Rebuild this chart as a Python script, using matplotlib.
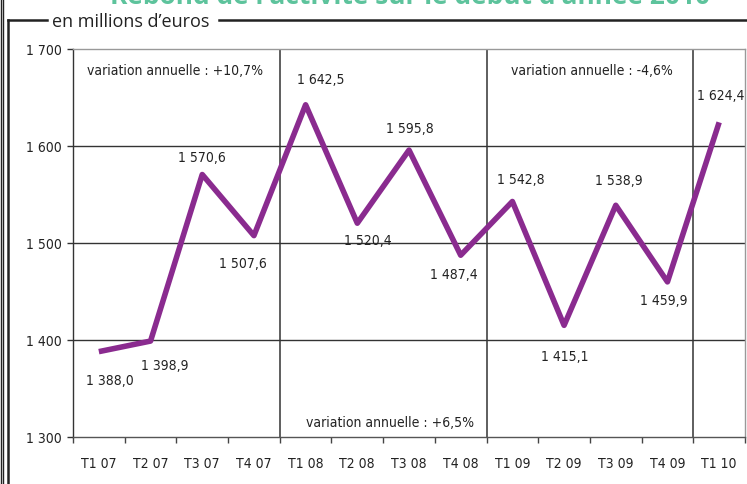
import matplotlib
matplotlib.use("Agg")
import matplotlib.pyplot as plt
from matplotlib.lines import Line2D

# ---- data ----
categories = ['T1 07', 'T2 07', 'T3 07', 'T4 07', 'T1 08', 'T2 08', 'T3 08',
              'T4 08', 'T1 09', 'T2 09', 'T3 09', 'T4 09', 'T1 10']
values = [1388.0, 1398.9, 1570.6, 1507.6, 1642.5, 1520.4, 1595.8,
          1487.4, 1542.8, 1415.1, 1538.9, 1459.9, 1624.4]
y_ticks = [1300, 1400, 1500, 1600, 1700]
y_tick_labels = ['1 300', '1 400', '1 500', '1 600', '1 700']
annual_notes = ['variation annuelle : +10,7%', 'variation annuelle : +6,5%',
                'variation annuelle : -4,6%']
title = "Rebond de l'activité sur le début d'année 2010"
subtitle = "en millions d\u2019euros"


def fr(v):
    return f"{v:,.1f}".replace(',', ' ').replace('.', ',')


W, H = 747, 485
fig = plt.figure(figsize=(W / 100, H / 100), dpi=100)
FONT = dict(family='DejaVu Sans', stretch='condensed')

ax = fig.add_axes([73 / W, 47 / H, 672 / W, 388 / H])
n = len(categories)
x = list(range(n))

ax.set_xlim(-0.5, n - 0.5)
ax.set_ylim(y_ticks[0], y_ticks[-1])

# grid lines
for yv in y_ticks[1:-1]:
    ax.axhline(yv, color='#333333', lw=1.0, zorder=1)
# vertical year separators
for b in (3.5, 7.5, 11.5):
    ax.axvline(b, color='#333333', lw=1.1, zorder=1)

ax.plot(x, values, color='#8A2B8F', lw=4.0, zorder=3, solid_capstyle='butt')

# value labels (offsets in pixels: dx right, dy down)
offsets_px = [(11, 28), (14, 24), (0, -18), (-11, 27), (15, -26), (11, 17),
              (1, -22), (-7, 19), (8, -22), (1, 31), (3, -25), (-4, 18), (2, -27)]
for xi, v, (dx, dy) in zip(x, values, offsets_px):
    ax.annotate(fr(v), (xi, v), xytext=(dx * 0.72, -dy * 0.72),
                textcoords='offset points', ha='center', va='center',
                fontsize=10, color='#222222', zorder=4, **FONT)

# annual variation notes
ax.text(1.47, 1678, annual_notes[0], ha='center', va='center', fontsize=10,
        color='#222222', **FONT)
ax.text(5.63, 1315.5, annual_notes[1], ha='center', va='center', fontsize=10,
        color='#222222', **FONT)
ax.text(9.54, 1678, annual_notes[2], ha='center', va='center', fontsize=10,
        color='#222222', **FONT)

# ticks
ax.set_yticks(y_ticks)
ax.set_yticklabels(y_tick_labels)
ax.tick_params(axis='y', direction='out', length=4, width=1, color='#333333',
               pad=4, labelsize=10, labelcolor='#222222')
ax.set_xticks([i - 0.5 for i in range(n + 1)])
ax.set_xticklabels([])
ax.set_xticks(x, minor=True)
ax.set_xticklabels(categories, minor=True)
ax.tick_params(axis='x', which='major', direction='out', length=4, width=1,
               color='#444444')
ax.tick_params(axis='x', which='minor', length=0, pad=13.5, labelsize=10,
               labelcolor='#222222')
for lab in ax.get_xticklabels(minor=True) + ax.get_yticklabels():
    lab.set_family('DejaVu Sans')
    lab.set_stretch('condensed')

for side, col in (('left', '#333333'), ('bottom', '#555555'),
                  ('top', '#999999'), ('right', '#999999')):
    ax.spines[side].set_color(col)
    ax.spines[side].set_linewidth(1.0)

# outer frame
def fline(xs, ys, lw, col='#222222'):
    fig.add_artist(Line2D([v / W for v in xs], [1 - v / H for v in ys],
                          transform=fig.transFigure, color=col, lw=lw))

fline([0.7, 0.7], [0, H], 1.0)
fline([2.8, 2.8], [0, H], 1.0)
fline([8, 8], [21, H], 1.8)
fline([8, 47], [21, 21], 1.8)
fline([219, W], [21, 21], 1.8)

fig.text(52 / W, 1 - 22 / H, subtitle, ha='left', va='center', fontsize=13,
         family='Open Sans', color='#222222')
fig.text(410 / W, 1 - 4 / H, title, ha='center', va='baseline', fontsize=19,
         family='Open Sans', weight='bold', color='#5DC39C')

fig.savefig('out.png', dpi=100)
